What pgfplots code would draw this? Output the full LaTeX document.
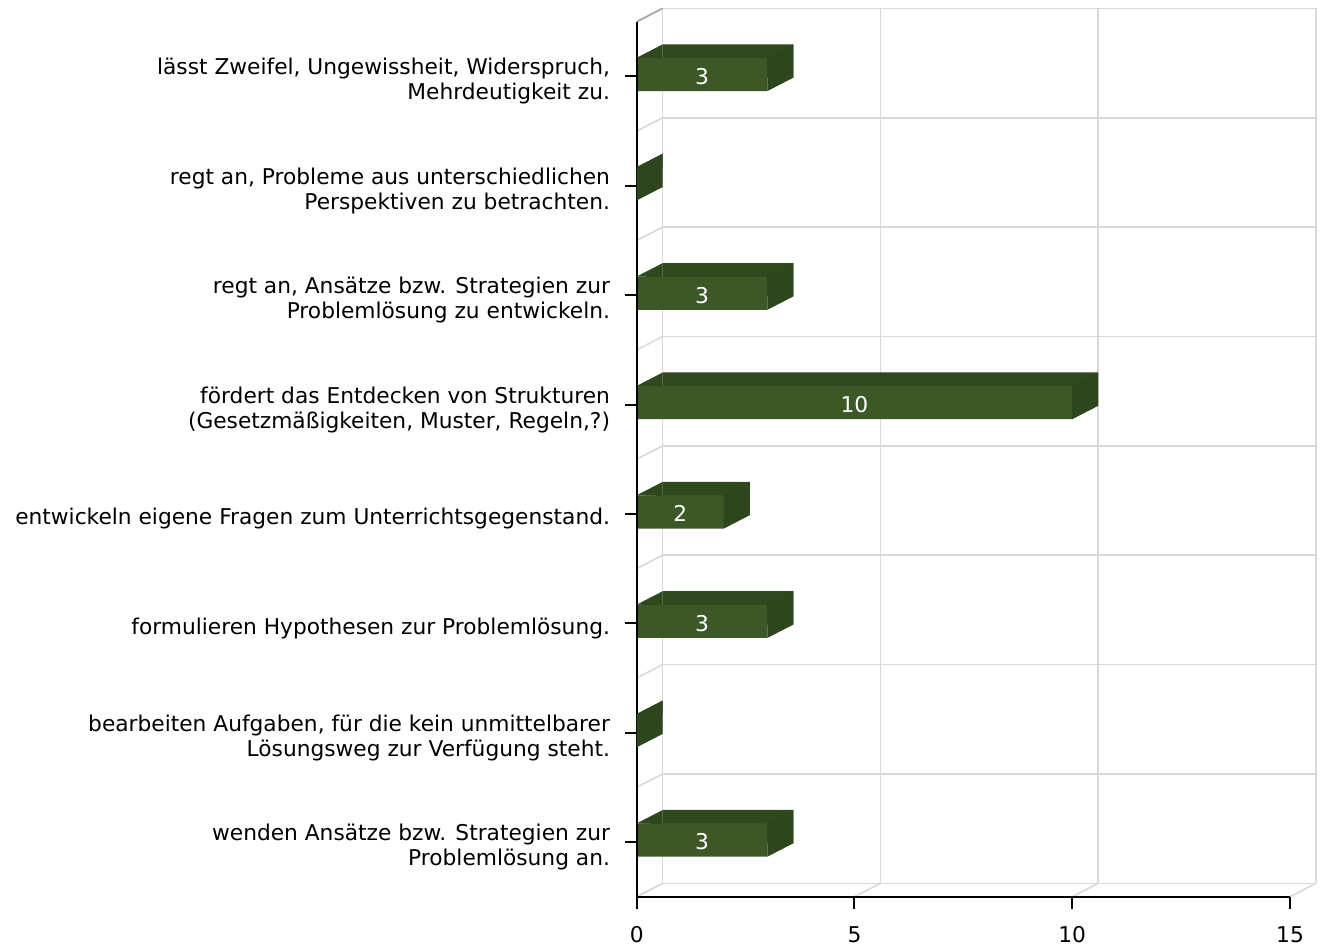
\documentclass[border=0pt]{standalone}
\usepackage{pgfplots}
\pgfplotsset{compat=1.18}
\usepackage{pgfplotstable}
\usepackage{fontspec}
\setmainfont{DejaVu Sans}
\definecolor{frontgreen}{RGB}{59,88,38}
\definecolor{topgreen}{RGB}{47,73,31}
\definecolor{sidegreen}{RGB}{45,70,30}
\definecolor{gridgray}{RGB}{217,217,217}
\definecolor{topdiag}{RGB}{165,165,165}

\pgfplotstableread{
y v lab
7 3 3
6 0 {}
5 3 3
4 10 10
3 2 2
2 3 3
1 0 {}
0 3 3
}\datatable

% side face of a bar, drawn at the right end of the bar
\pgfdeclareplotmark{side3d}{%
  \pgfsetfillcolor{sidegreen}%
  \pgfpathmoveto{\pgfqpoint{0pt}{-12.5pt}}%
  \pgfpathlineto{\pgfqpoint{0pt}{12.5pt}}%
  \pgfpathlineto{\pgfqpoint{19.5pt}{22.55pt}}%
  \pgfpathlineto{\pgfqpoint{19.5pt}{-2.45pt}}%
  \pgfpathclose
  \pgfusepathqfill
}
% top-left corner triangle of the top face, drawn at the left end of the bar
\pgfdeclareplotmark{tl3d}{%
  \pgfsetfillcolor{topgreen}%
  \pgfpathmoveto{\pgfqpoint{0pt}{12.5pt}}%
  \pgfpathlineto{\pgfqpoint{19.5pt}{22.55pt}}%
  \pgfpathlineto{\pgfqpoint{19.5pt}{12pt}}%
  \pgfpathclose
  \pgfusepathqfill
}

\begin{document}
\begin{tikzpicture}
\useasboundingbox (0,0) rectangle (990pt,713.25pt);
\begin{axis}[
  at={(477.5pt,40.7pt)}, anchor=south west,
  scale only axis, width=490pt, height=656.25pt,
  xmin=0, xmax=15, ymin=-0.5, ymax=7.5,
  axis x line*=bottom, axis y line*=left,
  axis line style={black, line width=1.5pt},
  xtick={0,5,10,15}, ytick={0,1,2,3,4,5,6,7},
  yticklabels={
    {wenden Ansätze bzw. Strategien zur\\Problemlösung an.},
    {bearbeiten Aufgaben, für die kein unmittelbarer\\Lösungsweg zur Verfügung steht.},
    {formulieren Hypothesen zur Problemlösung.},
    {entwickeln eigene Fragen zum Unterrichtsgegenstand.},
    {fördert das Entdecken von Strukturen\\(Gesetzmäßigkeiten, Muster, Regeln,?)},
    {regt an, Ansätze bzw. Strategien zur\\Problemlösung zu entwickeln.},
    {regt an, Probleme aus unterschiedlichen\\Perspektiven zu betrachten.},
    {lässt Zweifel, Ungewissheit, Widerspruch,\\Mehrdeutigkeit zu.}
  },
  tick align=outside, major tick length=9pt,
  tick style={black, line width=1.5pt},
  yticklabel style={align=right, font=\fontsize{16.3}{18.75}\selectfont, xshift=-7.5pt, yshift=-3.75pt},
  xticklabel style={font=\fontsize{16.3}{18}\selectfont, yshift=-10pt},
  /pgf/number format/assume math mode=true,
  clip=false, axis on top,
]
% back plane grid
\pgfplotsinvokeforeach{0,5,10,15}{
  \draw[gridgray, line width=1.2pt] ([xshift=19.5pt,yshift=10.05pt]axis cs:#1,-0.5) -- ([xshift=19.5pt,yshift=10.05pt]axis cs:#1,7.5);
  \draw[gridgray, line width=1.2pt] (axis cs:#1,-0.5) -- ([xshift=19.5pt,yshift=10.05pt]axis cs:#1,-0.5);
}
\pgfplotsinvokeforeach{-0.5,0.5,1.5,2.5,3.5,4.5,5.5,6.5,7.5}{
  \draw[gridgray, line width=1.2pt] ([xshift=19.5pt,yshift=10.05pt]axis cs:0,#1) -- ([xshift=19.5pt,yshift=10.05pt]axis cs:15,#1);
  \draw[gridgray, line width=1.2pt] (axis cs:0,#1) -- ([xshift=19.5pt,yshift=10.05pt]axis cs:0,#1);
}
\draw[topdiag, line width=1.2pt] (axis cs:0,7.5) -- ([xshift=19.5pt,yshift=10.05pt]axis cs:0,7.5);
% bars: shifted back face (gives the top face), corner, front face, side face
\addplot[xbar, bar width=25pt, fill=topgreen, draw=none, xshift=19.5pt, yshift=11.55pt] table[x=v,y=y]{\datatable};
\addplot[only marks, mark=tl3d, yshift=1.5pt] table[x expr=0, y=y]{\datatable};
\addplot[xbar, bar width=25pt, fill=frontgreen, draw=none, yshift=1.5pt] table[x=v,y=y]{\datatable};
\addplot[only marks, mark=side3d, yshift=1.5pt] table[x=v, y=y]{\datatable};
% value labels
\addplot[only marks, mark=none, point meta=explicit symbolic,
  nodes near coords,
  every node near coord/.style={anchor=center, text=white, font=\fontsize{16.3}{16.5}\selectfont}]
  table[x expr=\thisrow{v}/2, y=y, meta=lab]{\datatable};
\end{axis}
\end{tikzpicture}
\end{document}
